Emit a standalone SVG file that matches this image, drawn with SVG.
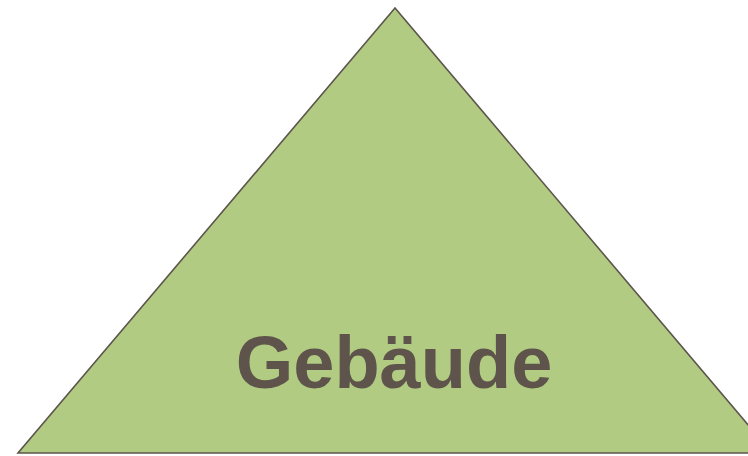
<svg xmlns="http://www.w3.org/2000/svg" width="748" height="456" viewBox="0 0 748 456">
<style>
.tri{fill:#b1cc82;stroke:#5d554c;stroke-width:1.6;stroke-linejoin:miter}
.lbl{font-family:"Liberation Sans",Arial,sans-serif;font-weight:bold;font-size:74px;fill:#5e544b;text-anchor:middle}
</style>
<rect width="748" height="456" fill="#ffffff"/>
<g id="building">
<polygon class="tri" points="395,8 18,453 772,453"/>
<text class="lbl" x="394" y="388">Gebäude</text>
</g>
</svg>
